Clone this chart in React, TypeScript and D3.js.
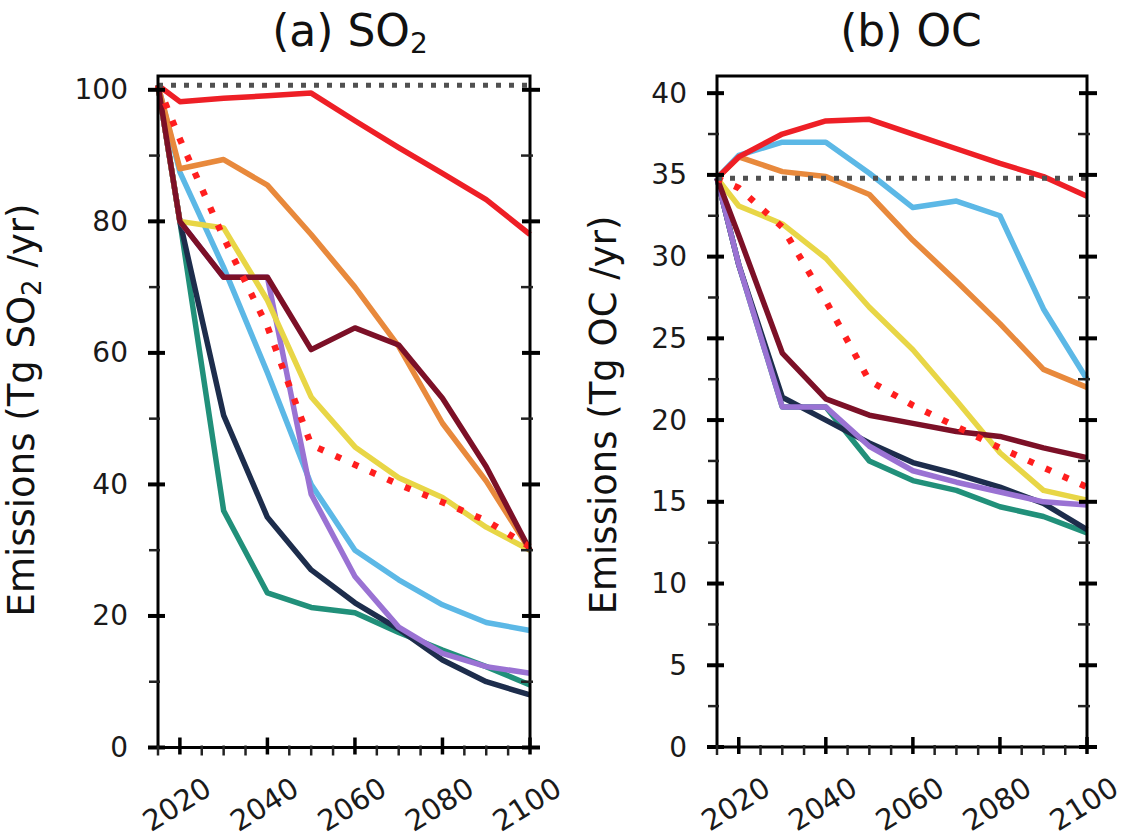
import React from 'react';
import * as d3 from 'd3';

const years = [2015, 2020, 2030, 2040, 2050, 2060, 2070, 2080, 2090, 2100];

// (a) SO2 emissions (Tg SO2/yr)
const so2Baseline = 100.7;
const so2Red = [100.7, 98.2, 98.7, 99.1, 99.5, 95.3, 91.2, 87.3, 83.3, 78];
const so2Orange = [100.7, 88, 89.4, 85.5, 78, 70, 61, 49.3, 40.5, 30];
const so2Blue = [100.7, 87.5, 73, 57, 40, 30, 25.5, 21.7, 19, 17.8];
const so2Yellow = [100.7, 80, 79, 68, 53.3, 45.7, 41, 38, 33.5, 30];
const so2Maroon = [100.7, 80, 71.5, 71.5, 60.5, 63.8, 61.2, 53.1, 42.7, 30];
const so2Navy = [100.7, 80, 50.5, 35, 27, 22, 18, 13.3, 10, 8];
const so2Teal = [100.7, 80, 36, 23.5, 21.3, 20.5, 17.5, 14.8, 12.3, 9.5];
const so2Purple = [100.7, 80, 71.5, 71.5, 38.5, 26, 18.3, 14.3, 12.3, 11.3];
const so2RedDot = [100.7, 92.5, 77.5, 64, 46, 43, 40, 37.3, 34.5, 30.5];

// (b) OC emissions (Tg OC/yr)
const ocBaseline = 34.8;
const ocRed = [34.8, 36.1, 37.5, 38.3, 38.4, 37.5, 36.6, 35.7, 34.9, 33.7];
const ocBlue = [34.8, 36.2, 37.0, 37.0, 35.1, 33.0, 33.4, 32.5, 26.8, 22.5];
const ocOrange = [34.8, 36.1, 35.2, 34.9, 33.8, 31.0, 28.5, 25.9, 23.1, 22.0];
const ocYellow = [34.8, 33.1, 32.0, 29.9, 26.9, 24.3, 21.2, 18.0, 15.7, 15.1];
const ocMaroon = [34.8, 31.3, 24.1, 21.3, 20.3, 19.8, 19.3, 19.0, 18.3, 17.7];
const ocNavy = [34.8, 29.5, 21.4, 20.0, 18.6, 17.4, 16.7, 15.9, 14.9, 13.3];
const ocTeal = [34.8, 29.5, 20.8, 20.8, 17.5, 16.3, 15.7, 14.7, 14.1, 13.1];
const ocPurple = [34.8, 29.5, 20.8, 20.8, 18.4, 16.9, 16.2, 15.6, 15.0, 14.8];
const ocRedDot = [34.8, 34.2, 31.8, 27.3, 22.4, 20.9, 19.6, 18.3, 17.1, 15.9];

const xTickLabels = [2020, 2040, 2060, 2080, 2100];
const so2YTicks = [0, 20, 40, 60, 80, 100];
const ocYTicks = [0, 5, 10, 15, 20, 25, 30, 35, 40];

const COLORS = {
  red: '#ee1f26',
  orange: '#e8893c',
  blue: '#5cb8e6',
  yellow: '#e8d646',
  maroon: '#7c1027',
  navy: '#1d2d4c',
  teal: '#21907a',
  purple: '#9a72d3',
  redDot: '#ff1e1e',
  base: '#505050',
};

type Series = { key: string; color: string; values: number[]; dotted?: boolean };

const so2Series: Series[] = [
  { key: 'teal', color: COLORS.teal, values: so2Teal },
  { key: 'navy', color: COLORS.navy, values: so2Navy },
  { key: 'blue', color: COLORS.blue, values: so2Blue },
  { key: 'purple', color: COLORS.purple, values: so2Purple },
  { key: 'yellow', color: COLORS.yellow, values: so2Yellow },
  { key: 'orange', color: COLORS.orange, values: so2Orange },
  { key: 'maroon', color: COLORS.maroon, values: so2Maroon },
  { key: 'red', color: COLORS.red, values: so2Red },
  { key: 'redDot', color: COLORS.redDot, values: so2RedDot, dotted: true },
];

const ocSeries: Series[] = [
  { key: 'teal', color: COLORS.teal, values: ocTeal },
  { key: 'navy', color: COLORS.navy, values: ocNavy },
  { key: 'purple', color: COLORS.purple, values: ocPurple },
  { key: 'yellow', color: COLORS.yellow, values: ocYellow },
  { key: 'orange', color: COLORS.orange, values: ocOrange },
  { key: 'blue', color: COLORS.blue, values: ocBlue },
  { key: 'maroon', color: COLORS.maroon, values: ocMaroon },
  { key: 'red', color: COLORS.red, values: ocRed },
  { key: 'redDot', color: COLORS.redDot, values: ocRedDot, dotted: true },
];

const FONT = '"DejaVu Sans", Verdana, sans-serif';

type PanelProps = {
  left: number;
  right: number;
  top: number;
  bottom: number;
  yMax: number;
  yMajor: number[];
  yMinorStep: number;
  series: Series[];
  baseline: number;
  title: React.ReactNode;
  titleX: number;
  yLabel: React.ReactNode;
  yLabelX: number;
  yLabelY: number;
  yLabelSize: number;
};

function Panel(p: PanelProps) {
  const x = d3.scaleLinear().domain([2015, 2100]).range([p.left, p.right]);
  const y = d3.scaleLinear().domain([0, p.yMax]).range([p.bottom, p.top]);
  const line = d3
    .line<number>()
    .x((_, i) => x(years[i]))
    .y((d) => y(d));

  const yMinor = d3.range(0, p.yMajor[p.yMajor.length - 1] + 0.001, p.yMinorStep).filter(
    (v) => !p.yMajor.some((m) => Math.abs(m - v) < 1e-6)
  );
  const xMinor = d3.range(2015, 2100.001, 5).filter((v) => !xTickLabels.includes(v));

  return (
    <g>
      {/* title */}
      <text x={p.titleX} y={46} textAnchor="middle" fontFamily={FONT} fontSize={44} fill="#111">
        {p.title}
      </text>
      {/* y label */}
      <text
        transform={`translate(${p.yLabelX},${p.yLabelY}) rotate(-90)`}
        textAnchor="middle"
        fontFamily={FONT}
        fontSize={p.yLabelSize}
        fill="#111"
      >
        {p.yLabel}
      </text>

      {/* data lines */}
      <g fill="none">
        {p.series.map((s) => (
          <path
            key={s.key}
            d={line(s.values) || ''}
            stroke={s.color}
            strokeWidth={s.dotted ? 6.5 : 5.5}
            strokeDasharray={s.dotted ? '6 13' : undefined}
            strokeLinejoin="round"
          />
        ))}
        <line
          x1={x(2015)}
          x2={x(2100)}
          y1={y(p.baseline)}
          y2={y(p.baseline)}
          stroke={COLORS.base}
          strokeWidth={5}
          strokeDasharray="5 8"
        />
      </g>

      {/* frame */}
      <rect
        x={p.left}
        y={p.top}
        width={p.right - p.left}
        height={p.bottom - p.top}
        fill="none"
        stroke="#000"
        strokeWidth={3}
      />

      {/* y ticks */}
      {p.yMajor.map((v) => (
        <g key={'ym' + v}>
          <line x1={p.left - 10} x2={p.left + 7} y1={y(v)} y2={y(v)} stroke="#000" strokeWidth={4} />
          <line x1={p.right - 8} x2={p.right + 10} y1={y(v)} y2={y(v)} stroke="#000" strokeWidth={4} />
          <text
            x={p.left - 30}
            y={y(v)}
            textAnchor="end"
            dominantBaseline="central"
            fontFamily={FONT}
            fontSize={28}
            fill="#1a1a1a"
          >
            {v}
          </text>
        </g>
      ))}
      {yMinor.map((v) => (
        <g key={'yn' + v}>
          <line x1={p.left - 9} x2={p.left + 2} y1={y(v)} y2={y(v)} stroke="#222" strokeWidth={2.5} />
          <line x1={p.right - 9} x2={p.right + 3} y1={y(v)} y2={y(v)} stroke="#222" strokeWidth={2.5} />
        </g>
      ))}

      {/* x ticks */}
      {xTickLabels.map((v) => (
        <g key={'xm' + v}>
          <line x1={x(v)} x2={x(v)} y1={p.bottom - 10} y2={p.bottom + 7} stroke="#000" strokeWidth={3.5} />
          <text
            transform={`translate(${x(v) - 3},${p.bottom + 57}) rotate(-32)`}
            textAnchor="middle"
            dominantBaseline="central"
            fontFamily={FONT}
            fontSize={29}
            fill="#1a1a1a"
          >
            {v}
          </text>
        </g>
      ))}
      {xMinor.map((v) => (
        <line key={'xn' + v} x1={x(v)} x2={x(v)} y1={p.bottom - 2} y2={p.bottom + 8} stroke="#222" strokeWidth={2.5} />
      ))}
    </g>
  );
}

export default function App() {
  return (
    <svg
      width={1130}
      height={837}
      viewBox="0 0 1130 837"
      style={{ position: 'absolute', left: 0, top: 0, background: '#fff' }}
    >
      <rect x={0} y={0} width={1130} height={837} fill="#fff" />
      <Panel
        left={158}
        right={530}
        top={76}
        bottom={747.5}
        yMax={102.1}
        yMajor={so2YTicks}
        yMinorStep={10}
        series={so2Series}
        baseline={so2Baseline}
        title={
          <>
            (a) SO
            <tspan fontSize={28} dy={7}>2</tspan>
          </>
        }
        titleX={350}
        yLabel={
          <>
            Emissions (Tg SO
            <tspan fontSize={26} dy={7}>2</tspan>
            <tspan dy={-7}> /yr)</tspan>
          </>
        }
        yLabelX={34}
        yLabelY={410}
        yLabelSize={37}
      />
      <Panel
        left={717}
        right={1087}
        top={76}
        bottom={747}
        yMax={41.05}
        yMajor={ocYTicks}
        yMinorStep={2.5}
        series={ocSeries}
        baseline={ocBaseline}
        title={<>(b) OC</>}
        titleX={911}
        yLabel={<>Emissions (Tg OC /yr)</>}
        yLabelX={616}
        yLabelY={415}
        yLabelSize={37}
      />
    </svg>
  );
}
